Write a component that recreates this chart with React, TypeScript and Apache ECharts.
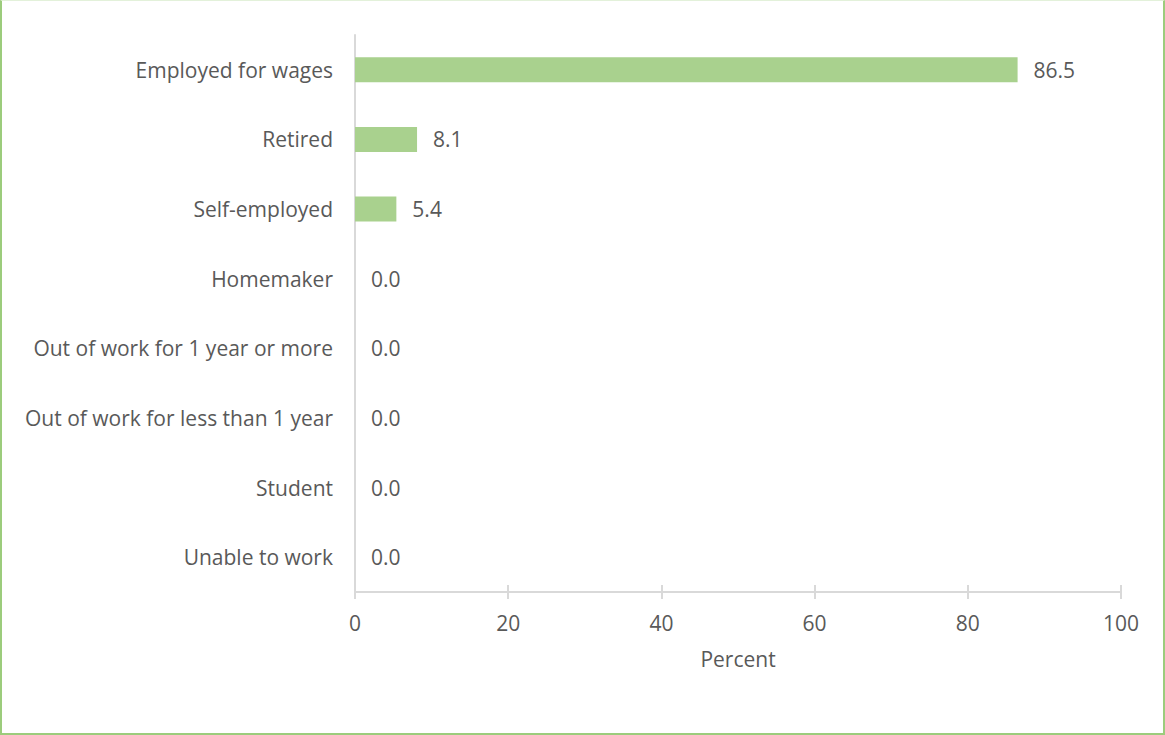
import React, { useEffect, useRef } from "react";
import * as echarts from "echarts";

const categories = [
  "Employed for wages",
  "Retired",
  "Self-employed",
  "Homemaker",
  "Out of work for 1 year or more",
  "Out of work for less than 1 year",
  "Student",
  "Unable to work",
];
const values = [86.5, 8.1, 5.4, 0.0, 0.0, 0.0, 0.0, 0.0];
const xTicks = [0, 20, 40, 60, 80, 100];
const axisName = "Percent";

const FONT = "'Open Sans', 'Noto Sans', sans-serif";
const TEXT = "#595959";
const LINE = "#d9d9d9";
const FS = 21;

export default function App() {
  const ref = useRef<HTMLDivElement>(null);
  useEffect(() => {
    document.body.style.margin = "0";
    const chart = echarts.init(ref.current!, null, { renderer: "svg" });
    chart.setOption({
      animation: false,
      textStyle: { fontFamily: FONT },
      grid: { left: 355, right: 44, top: 35, bottom: 143, containLabel: false },
      xAxis: [
        {
          type: "value",
          min: xTicks[0],
          max: xTicks[xTicks.length - 1],
          interval: 20,
          name: axisName,
          nameLocation: "middle",
          nameGap: 56,
          nameTextStyle: { color: TEXT, fontSize: FS, fontFamily: FONT },
          axisLine: { show: true, lineStyle: { color: LINE, width: 2 } },
          axisTick: { show: true, length: 7, lineStyle: { color: LINE, width: 2 } },
          axisLabel: { color: TEXT, fontSize: FS, margin: 20, fontFamily: FONT },
          splitLine: { show: false },
        },
        {
          type: "value",
          position: "bottom",
          min: xTicks[0],
          max: xTicks[xTicks.length - 1],
          interval: 20,
          axisLine: { show: false },
          axisTick: { show: true, inside: true, length: 7, lineStyle: { color: LINE, width: 2 } },
          axisLabel: { show: false },
          splitLine: { show: false },
        },
      ],
      yAxis: {
        type: "category",
        data: categories,
        inverse: true,
        axisLine: { show: true, lineStyle: { color: LINE, width: 2 } },
        axisTick: { show: false },
        axisLabel: { color: TEXT, fontSize: FS, margin: 22, fontFamily: FONT },
        splitLine: { show: false },
      },
      series: [
        {
          type: "bar",
          data: values,
          barWidth: 25,
          itemStyle: { color: "#A9D18E" },
          label: {
            show: true,
            position: "right",
            distance: 16,
            color: TEXT,
            fontSize: FS,
            fontFamily: FONT,
            formatter: (p: any) => Number(p.value).toFixed(1),
          },
        },
      ],
    });
    return () => chart.dispose();
  }, []);
  return (
    <div style={{ position: "absolute", left: 0, top: 0, width: 1165, height: 735, background: "#fff" }}>
      <div ref={ref} style={{ position: "absolute", left: 0, top: 0, width: 1165, height: 735 }} />
      <div
        style={{
          position: "absolute",
          left: 0,
          top: 0,
          width: 1165,
          height: 735,
          boxSizing: "border-box",
          pointerEvents: "none",
          borderLeft: "2px solid #9ccc7c",
          borderRight: "2px solid #9ccc7c",
          borderBottom: "2px solid #9ccc7c",
          borderTop: "1px solid #e3f1da",
        }}
      />
    </div>
  );
}
